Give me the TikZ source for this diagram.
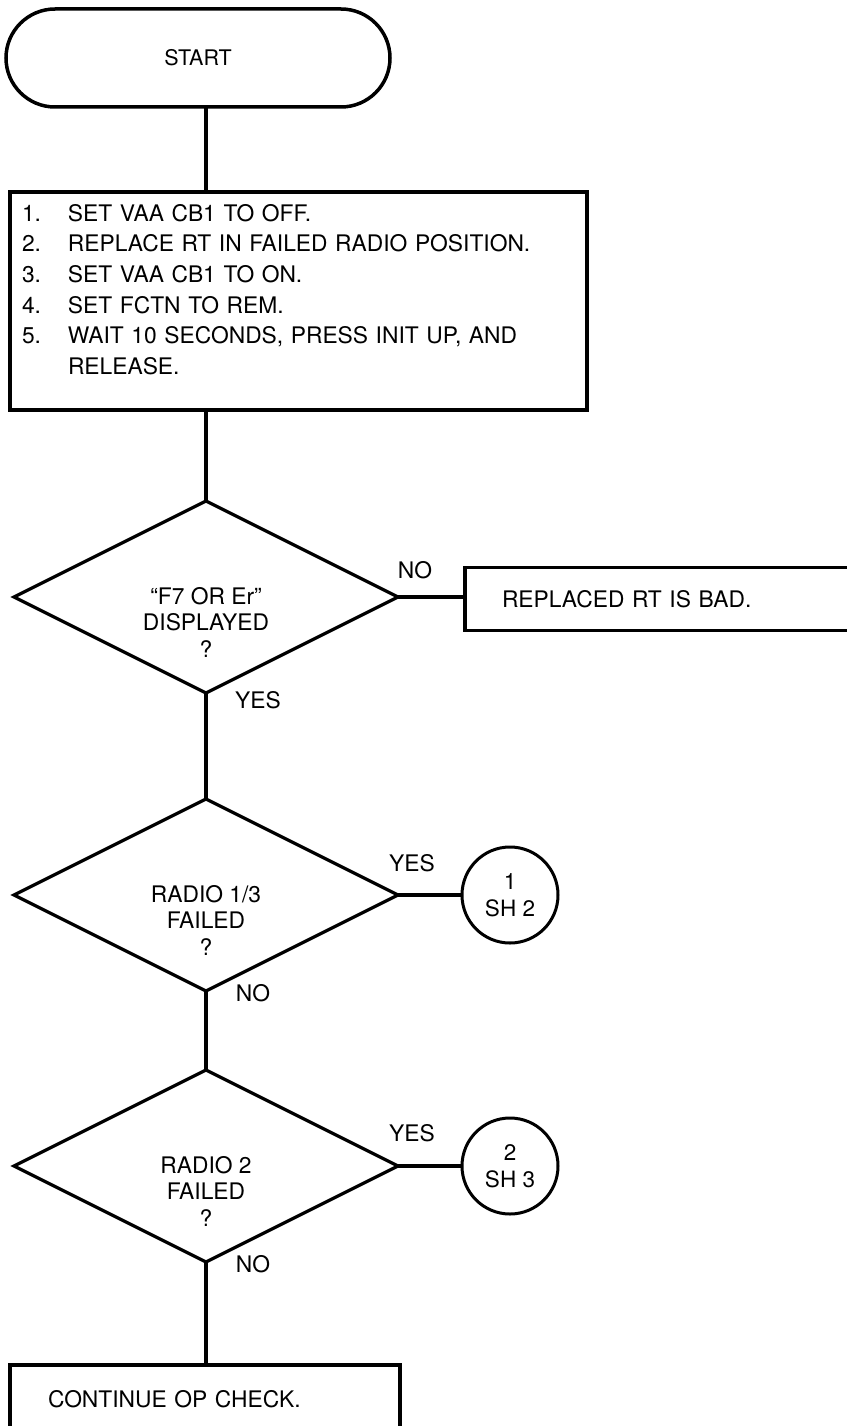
\documentclass[tikz,border=0pt]{standalone}
\usepackage{fontspec}
\setmainfont{TeX Gyre Heros}
\usepackage{tikz}
\usetikzlibrary{positioning}
\usetikzlibrary{shapes}
\usetikzlibrary{calc}
\tikzstyle{terminal}=[rectangle,rounded corners=49pt,draw,line width=3.5pt,outer sep=0pt,minimum width=384pt,minimum height=98pt,font=\fontsize{21.5}{26}\selectfont]
\tikzstyle{stepbox}=[rectangle,draw,line width=3.5pt,outer sep=0pt,inner ysep=0pt,align=left]
\tikzstyle{decision}=[diamond,draw,line width=3.2pt,outer sep=0pt,inner sep=0pt,minimum width=384pt,minimum height=192pt]
\tikzstyle{question}=[align=center,font=\fontsize{22.8}{26.5}\selectfont]
\tikzstyle{connector}=[circle,draw,line width=3pt,outer sep=0pt,inner sep=0pt,minimum size=96pt,align=center,font=\fontsize{22.5}{27}\selectfont]
\tikzstyle{answer}=[inner sep=0pt]
\tikzstyle{link}=[draw,line width=3.5pt]

\begin{document}
\begin{tikzpicture}[x=1pt,y=-1pt,font=\fontsize{22.8}{26}\selectfont]

  \useasboundingbox (0,0) rectangle (846,1426);

  \node[terminal] (start) at (198,58) {START};

  % list of steps, numbers hang in a column of their own
  \def\num#1{\makebox[46pt][l]{#1}}
  \node[stepbox,anchor=north west,text width=553pt,inner xsep=12pt,
        text height=29.2pt,text depth=188.8pt,font=\fontsize{22.8}{30.6}\selectfont] (steps) at (10,192)
    {\num{1.}SET VAA CB1 TO OFF.\\
     \num{2.}REPLACE RT IN FAILED RADIO POSITION.\\
     \num{3.}SET VAA CB1 TO ON.\\
     \num{4.}SET FCTN TO REM.\\
     \num{5.}WAIT 10 SECONDS, PRESS INIT UP, AND\\
     \hspace*{46pt}RELEASE.};

  % decisions down the main column
  \foreach \y/\name/\txt in {597/d1/{“F7 OR Er”\\DISPLAYED\\?}, 895/d2/{RADIO 1/3\\FAILED\\?}, 1166/d3/{RADIO 2\\FAILED\\?}}
  {
    \node[decision] (\name) at (206,\y) {};
    \node[question] (\name-txt) at (206,\y+25) {\txt};
  }

  \node[stepbox,anchor=west,minimum height=63pt,text width=326pt,inner xsep=37pt] (bad) at (465,599) {REPLACED RT IS BAD.};
  \node[connector] (sh2) at (510,895) {1\\SH 2};
  \node[connector] (sh3) at (510,1166) {2\\SH 3};
  \node[stepbox,anchor=north west,minimum height=68pt,text width=314pt,inner xsep=38pt] (cont) at (10,1365) {CONTINUE OP CHECK.};

  % flow lines
  \draw[link] (start.south -| d1) -- (steps.north -| d1);
  \draw[link] (steps.south -| d1) -- (d1.north);
  \draw[link] (d1.south) -- (d2.north);
  \draw[link] (d2.south) -- (d3.north);
  \draw[link] (d3.south) -- (cont.north -| d3);
  \draw[link] (d1.east) -- (d1.east -| bad.west);
  \draw[link] (d2.east) -- (sh2.west);
  \draw[link] (d3.east) -- (sh3.west);

  % branch answers
  \node[answer] (d1-no) at ([shift={(17,-27)}]d1.east) {NO};
  \node[answer] (d1-yes) at ([shift={(52,7)}]d1.south) {YES};
  \node[answer] (d2-yes) at ([shift={(14,-32)}]d2.east) {YES};
  \node[answer] (d2-no) at ([shift={(47,2)}]d2.south) {NO};
  \node[answer] (d3-yes) at ([shift={(14,-33)}]d3.east) {YES};
  \node[answer] (d3-no) at ([shift={(47,2)}]d3.south) {NO};

\end{tikzpicture}
\end{document}
